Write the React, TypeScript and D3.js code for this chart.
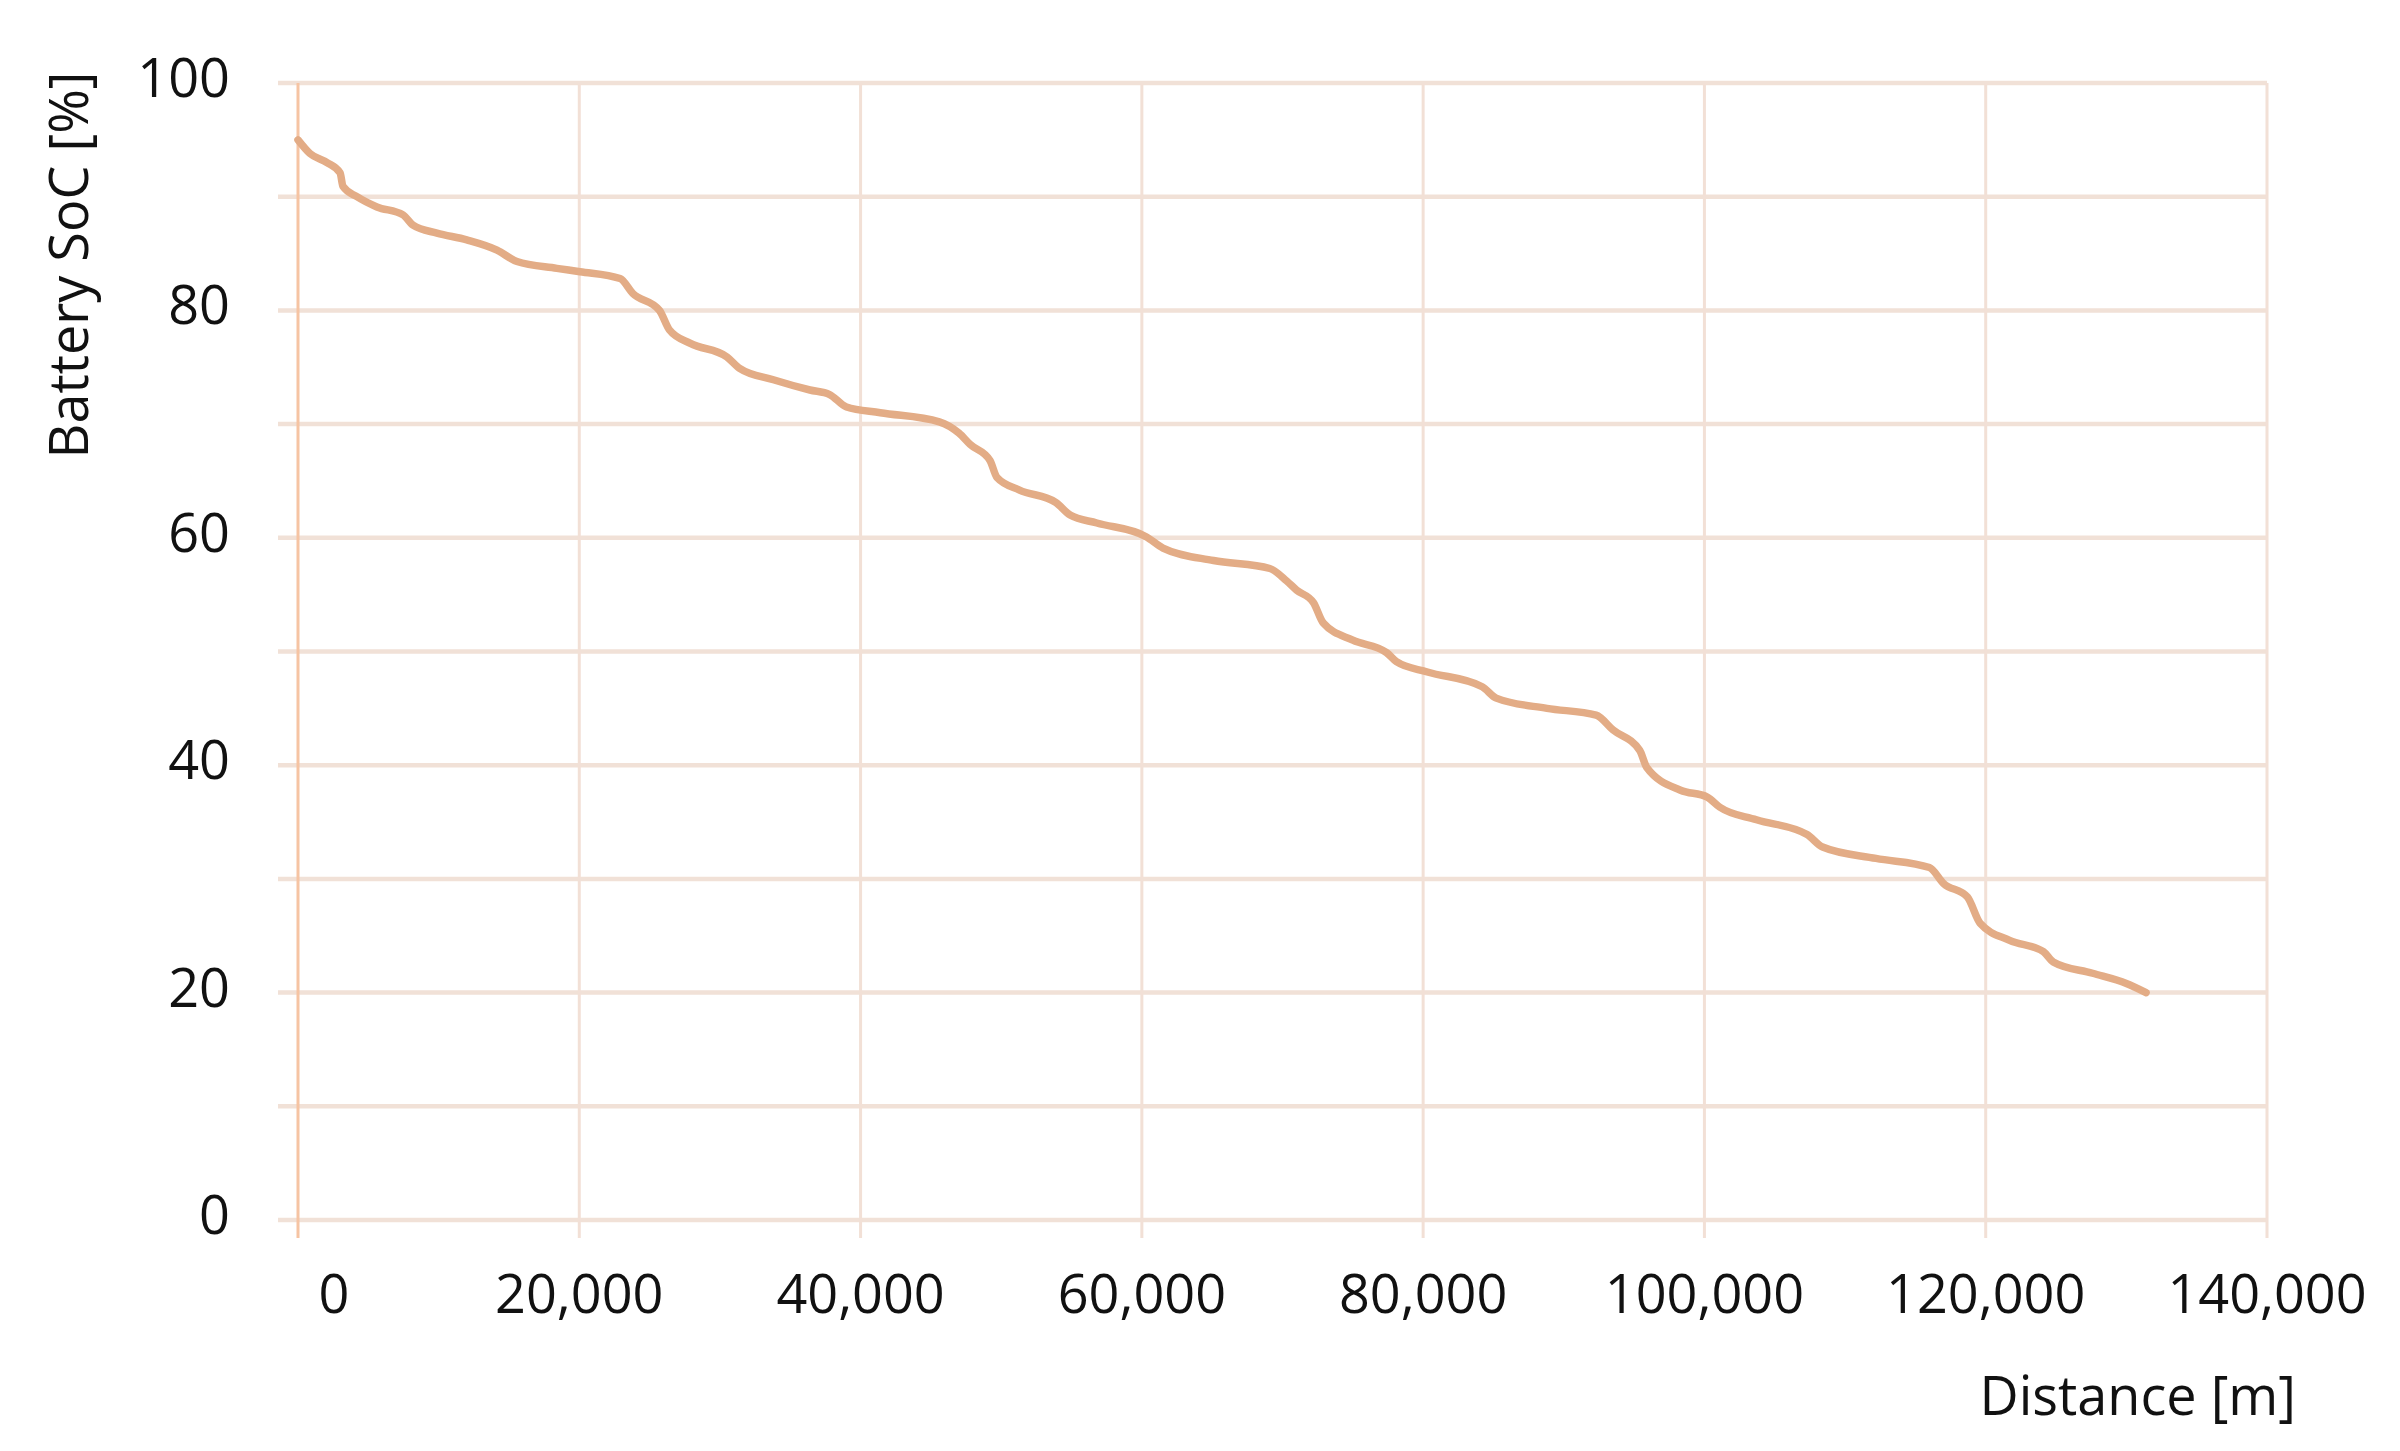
import React from "react";
import * as d3 from "d3";

const distance = [
  0, 850, 2060, 2990, 3200, 4190, 5610, 7470, 8180, 9880, 12000, 14150, 15570, 18400, 20050,
  22900, 23800, 25700, 26400, 27900, 30500, 31400, 33800, 36400, 37800, 39000, 41400, 45600,
  47000, 47800, 49200, 49700, 51300, 53900, 54900, 56800, 60300, 61500, 65100, 69100, 70300,
  71000, 72200, 72900, 75000, 77400, 78100, 80300, 84200, 85200, 88800, 92300, 93500, 95400,
  95900, 98300, 100200, 101100, 103700, 107300, 108400, 112200, 116000, 117000, 118700, 119600,
  121700, 124100, 124800, 127600, 130000, 131400,
];
const soc = [
  95.0, 93.8, 93.0, 92.1, 90.9, 90.0, 89.1, 88.4, 87.5, 86.8, 86.2, 85.3, 84.3, 83.7, 83.4,
  82.8, 81.5, 80.0, 78.3, 77.1, 75.9, 74.9, 73.9, 73.0, 72.6, 71.5, 71.0, 70.2,
  69.2, 68.2, 66.8, 65.3, 64.2, 63.1, 62.0, 61.3, 60.1, 59.1, 58.0, 57.3, 56.2,
  55.4, 54.3, 52.5, 51.0, 49.9, 49.1, 48.2, 46.9, 45.9, 45.0, 44.4, 43.1, 41.3,
  39.8, 37.8, 37.2, 36.3, 35.2, 33.9, 32.8, 31.8, 31.0, 29.6, 28.4, 26.1,
  24.6, 23.6, 22.7, 21.7, 20.8, 20.0,
];
const xTicks = [0, 20000, 40000, 60000, 80000, 100000, 120000, 140000];
const yGrid = [0, 10, 20, 30, 40, 50, 60, 70, 80, 90, 100];
const yLabels = [0, 20, 40, 60, 80, 100];

const W = 2400;
const H = 1451;
const FONT = "'Open Sans', 'Noto Sans', sans-serif";

export default function App() {
  const x = d3.scaleLinear().domain([0, 140000]).range([298, 2267]);
  const y = d3.scaleLinear().domain([0, 100]).range([1220, 83]);
  const pts = distance.map((d, i) => [d, soc[i]] as [number, number]);
  const line = d3
    .line<[number, number]>()
    .x((p) => x(p[0]))
    .y((p) => y(p[1]))
    .curve(d3.curveMonotoneX);
  const fmt = d3.format(",");
  const [x0, x1] = x.range();
  const [yb, yt] = y.range();

  return (
    <svg
      width={W}
      height={H}
      style={{ position: "absolute", left: 0, top: 0, background: "#fff", display: "block" }}
    >
      {yGrid.map((v) => (
        <line key={"h" + v} x1={x0 - 20} x2={x1} y1={y(v)} y2={y(v)} stroke="#F1E1D7" strokeWidth={4.5} />
      ))}
      {xTicks.slice(1).map((v) => (
        <line key={"v" + v} x1={x(v)} x2={x(v)} y1={yt} y2={yb + 18} stroke="#F2E0D6" strokeWidth={3} />
      ))}
      <line x1={x0} x2={x0} y1={yt} y2={yb + 18} stroke="#F6C4A3" strokeWidth={3} />
      <path
        d={line(pts) || ""}
        fill="none"
        stroke="#E3AC86"
        strokeWidth={7.5}
        strokeLinejoin="round"
        strokeLinecap="round"
      />
      {yLabels.map((v) => (
        <text
          key={"yl" + v}
          x={230}
          y={y(v) + 14}
          textAnchor="end"
          fontFamily={FONT}
          fontSize={54}
          fill="#111"
        >
          {v}
        </text>
      ))}
      {xTicks.map((v, i) => (
        <text
          key={"xl" + v}
          x={x(v) + (i === 0 ? 36 : 0)}
          y={1313}
          textAnchor="middle"
          fontFamily={FONT}
          fontSize={54}
          fill="#111"
        >
          {fmt(v)}
        </text>
      ))}
      <text
        transform="translate(88,265) rotate(-90)"
        textAnchor="middle"
        fontFamily={FONT}
        fontSize={54}
        fill="#111"
      >
        Battery SoC [%]
      </text>
      <text x={2296} y={1415} textAnchor="end" fontFamily={FONT} fontSize={54} fill="#111">
        Distance [m]
      </text>
    </svg>
  );
}
